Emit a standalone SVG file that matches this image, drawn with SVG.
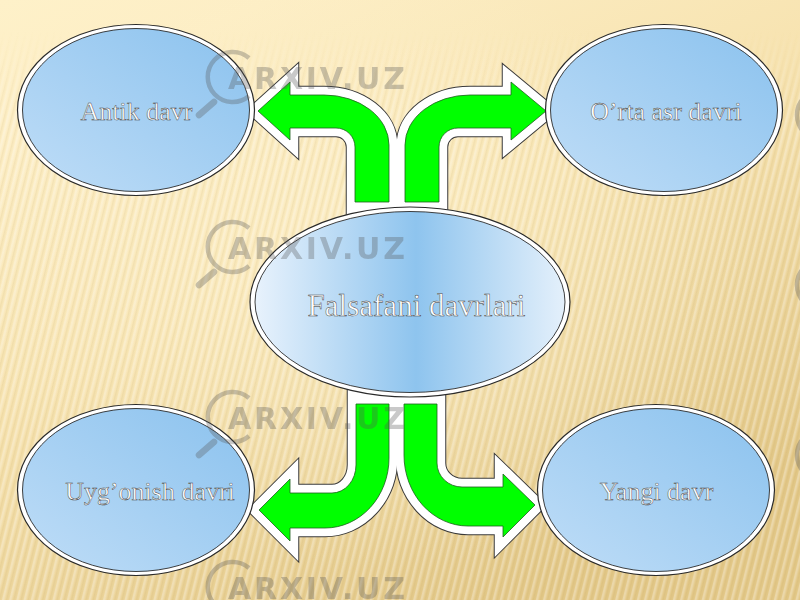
<svg xmlns="http://www.w3.org/2000/svg" width="800" height="600" viewBox="0 0 800 600">
<defs>
  <linearGradient id="bg" x1="0" y1="0" x2="0.6" y2="1">
    <stop offset="0" stop-color="#fef1c9"/>
    <stop offset="0.15" stop-color="#fdeec5"/>
    <stop offset="0.5" stop-color="#f7e3b0"/>
    <stop offset="1" stop-color="#e3c888"/>
  </linearGradient>
  <radialGradient id="band" cx="0.45" cy="0.45" r="0.5">
    <stop offset="0" stop-color="#fff3cf" stop-opacity="0.55"/>
    <stop offset="1" stop-color="#fff3cf" stop-opacity="0"/>
  </radialGradient>
  <pattern id="stripes" width="7" height="7" patternUnits="userSpaceOnUse" patternTransform="rotate(14)">
    <rect x="0" y="0" width="2.5" height="7" fill="#ffffff" fill-opacity="0.28"/>
    <rect x="4" y="0" width="1.5" height="7" fill="#b89a50" fill-opacity="0.1"/>
  </pattern>
  <linearGradient id="fadeG" x1="0" y1="0" x2="0" y2="1">
    <stop offset="0.05" stop-color="#fff" stop-opacity="0"/>
    <stop offset="0.2" stop-color="#fff" stop-opacity="1"/>
  </linearGradient>
  <mask id="fade"><rect width="800" height="600" fill="url(#fadeG)"/></mask>
  <linearGradient id="nodeG" x1="0" y1="1" x2="1" y2="0">
    <stop offset="0" stop-color="#bfddf7"/>
    <stop offset="1" stop-color="#8bc2ee"/>
  </linearGradient>
  <linearGradient id="centerG" x1="0" y1="0" x2="1" y2="0">
    <stop offset="0" stop-color="#e8f2fc"/>
    <stop offset="0.52" stop-color="#8ec4ee"/>
    <stop offset="1" stop-color="#e4f0fb"/>
  </linearGradient>
  <path id="aTL" d="M 389 240 L 389 145 A 65 50 0 0 0 324 95 L 290 95 L 290 82 L 258 111 L 290 140 L 290 128 L 336 128 A 19 19 0 0 1 355 147 L 355 240 Z"/>
  <path id="aTR" d="M 405 240 L 405 145 A 65 50 0 0 1 470 95 L 511 95 L 511 82 L 546 111 L 511 140 L 511 128 L 458 128 A 19 19 0 0 0 439 147 L 439 240 Z"/>
  <path id="aBL" d="M 389 365 L 389 458 A 64 70 0 0 1 325 528 L 290 528 L 290 541 L 259 510 L 290 479 L 290 493 L 332 493 A 24 28 0 0 0 356 465 L 356 365 Z"/>
  <path id="aBR" d="M 404 365 L 404 455 A 64 71 0 0 0 468 526 L 503 526 L 503 537 L 535 505 L 503 474 L 503 487 L 462 487 A 25 24 0 0 1 437 463 L 437 365 Z"/>
  <g id="wm">
    <path d="M 249 58 A 25 25 0 1 0 249 96" fill="none" stroke-width="4.5"/>
    <line x1="214" y1="102" x2="199" y2="115" stroke-width="6.5" stroke-linecap="round"/>
    <text x="228" y="89" font-family="'DejaVu Sans', 'Liberation Sans', sans-serif" font-weight="bold" font-size="30" textLength="177" lengthAdjust="spacing" stroke="none">ARXIV.UZ</text>
  </g>
</defs>
<style>
  .bord1 { fill: #3a3a3a; stroke: #3a3a3a; stroke-width: 18.5; stroke-linejoin: miter; stroke-miterlimit: 10; }
  .bord2 { fill: #ffffff; stroke: #ffffff; stroke-width: 16.5; stroke-linejoin: miter; stroke-miterlimit: 10; }
  .green { fill: #00ff00; stroke: #1f5f1f; stroke-width: 0.8; stroke-linejoin: miter; }
  .ring { fill: #ffffff; stroke: #2a2a2a; stroke-width: 1.2; }
  .fillN { fill: url(#nodeG); stroke: #2a2a2a; stroke-width: 0.9; }
  .fillC { fill: url(#centerG); stroke: #2a2a2a; stroke-width: 0.9; }
  .lbl { font-family: "Liberation Serif", "Times New Roman", serif; font-size: 26px; fill: #ffffff; stroke: #3a3a3a; stroke-width: 0.45; text-anchor: middle; }
  .lblC { font-size: 31px; }
  .wm { fill: #555555; stroke: #555555; opacity: 0.32; }
</style>

<rect width="800" height="600" fill="url(#bg)"/>
<rect width="800" height="600" fill="url(#band)"/>
<rect width="800" height="600" fill="url(#stripes)" mask="url(#fade)"/>

<g id="connectors">
  <use href="#aTL" class="bord1"/>
  <use href="#aTR" class="bord1"/>
  <use href="#aBL" class="bord1"/>
  <use href="#aBR" class="bord1"/>
  <use href="#aTL" class="bord2"/>
  <use href="#aTR" class="bord2"/>
  <use href="#aBL" class="bord2"/>
  <use href="#aBR" class="bord2"/>
  <path class="green" d="M 389 202 L 389 145 A 65 50 0 0 0 324 95 L 290 95 L 290 82 L 258 111 L 290 140 L 290 128 L 336 128 A 19 19 0 0 1 355 147 L 355 202 Z"/>
  <path class="green" d="M 405 202 L 405 145 A 65 50 0 0 1 470 95 L 511 95 L 511 82 L 546 111 L 511 140 L 511 128 L 458 128 A 19 19 0 0 0 439 147 L 439 202 Z"/>
  <path class="green" d="M 389 404 L 389 458 A 64 70 0 0 1 325 528 L 290 528 L 290 541 L 259 510 L 290 479 L 290 493 L 332 493 A 24 28 0 0 0 356 465 L 356 404 Z"/>
  <path class="green" d="M 404 404 L 404 455 A 64 71 0 0 0 468 526 L 503 526 L 503 537 L 535 505 L 503 474 L 503 487 L 462 487 A 25 24 0 0 1 437 463 L 437 404 Z"/>
</g>

<g id="node-antik">
  <ellipse class="ring" cx="136" cy="110" rx="118.5" ry="85.5"/>
  <ellipse class="fillN" cx="136" cy="110" rx="113.5" ry="81.5"/>
  <text class="lbl" x="136.5" y="120">Antik davr</text>
</g>
<g id="node-orta">
  <ellipse class="ring" cx="664" cy="110" rx="118.5" ry="85.5"/>
  <ellipse class="fillN" cx="664" cy="110" rx="113.5" ry="81.5"/>
  <text class="lbl" x="666" y="120">O’rta asr davri</text>
</g>
<g id="node-uygonish">
  <ellipse class="ring" cx="136" cy="490" rx="118.5" ry="85.5"/>
  <ellipse class="fillN" cx="136" cy="490" rx="113.5" ry="81.5"/>
  <text class="lbl" x="150" y="500">Uyg’onish davri</text>
</g>
<g id="node-yangi">
  <ellipse class="ring" cx="656" cy="490" rx="118.5" ry="85.5"/>
  <ellipse class="fillN" cx="656" cy="490" rx="113.5" ry="81.5"/>
  <text class="lbl" x="656.5" y="500">Yangi davr</text>
</g>
<g id="node-center">
  <ellipse class="ring" cx="410" cy="302" rx="160" ry="95"/>
  <ellipse class="fillC" cx="410" cy="302" rx="155" ry="90.5"/>
  <text class="lbl lblC" x="416.5" y="316">Falsafani davrlari</text>
</g>

<g id="watermark" class="wm">
  <use href="#wm"/>
  <use href="#wm" y="170"/>
  <use href="#wm" y="340"/>
  <use href="#wm" y="510"/>
  <circle cx="822" cy="115" r="25" fill="none" stroke-width="4.5"/>
  <circle cx="822" cy="285" r="25" fill="none" stroke-width="4.5"/>
  <circle cx="822" cy="455" r="25" fill="none" stroke-width="4.5"/>
</g>
</svg>
